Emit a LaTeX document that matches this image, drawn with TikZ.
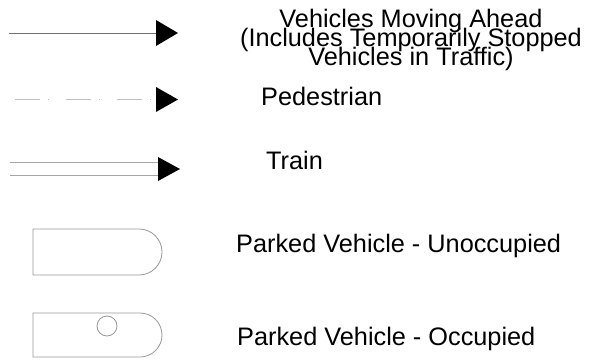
\documentclass[tikz,border=0pt]{standalone}
\usepackage{fontspec}
\setmainfont{Liberation Sans}
\usetikzlibrary{arrows.meta}
\begin{document}
\begin{tikzpicture}[x=1pt,y=-1pt,
  legline/.style={draw=black!55,line width=0.9pt},
  railline/.style={draw=black!35,line width=0.9pt},
  pedline/.style={draw=black!25,line width=1pt,dash pattern=on 25pt off 8pt on 1pt off 17pt},
  tipstyle/.style={fill=black},
  carshape/.style={draw=black!40,line width=0.8pt},
  lbl/.style={font=\fontsize{25.3}{19}\selectfont,inner sep=0pt,anchor=base west}]
\useasboundingbox (0,0) rectangle (589,362);
% vehicles moving ahead
\coordinate (vs) at (9,33);
\coordinate (ve) at (157,33);
\draw[legline] (vs) -- (ve);
\fill[tipstyle] (156,20) -- (178,33) -- (156,46) -- cycle;
\node[font={\fontsize{25.3}{19}\selectfont\lineskiplimit=-50pt\lineskip=0pt},align=center,inner sep=0pt,anchor=base] (vtxt) at (411,65)
  {Vehicles Moving Ahead\\(Includes Temporarily Stopped\\Vehicles in Traffic)};
% pedestrian
\coordinate (ps) at (15,99);
\coordinate (pe) at (157,99);
\draw[pedline] (ps) -- (pe);
\fill[tipstyle] (156,87) -- (178,99.5) -- (156,112) -- cycle;
\node[lbl] (ptxt) at (261,105) {Pedestrian};
% train
\coordinate (ts1) at (10,162);
\coordinate (te1) at (158,162);
\coordinate (ts2) at (10,175);
\coordinate (te2) at (158,175);
\draw[railline] (ts1) -- (te1);
\draw[railline] (ts2) -- (te2);
\fill[tipstyle] (158,157) -- (180,169) -- (158,181) -- cycle;
\node[lbl] (ttxt) at (266,169) {Train};
% parked vehicle unoccupied
\draw[carshape] (139,229) -- (33,229) -- (33,275) -- (139,275) arc[start angle=90,end angle=-90,radius=23];
\node[lbl] (utxt) at (236,252) {Parked Vehicle - Unoccupied};
% parked vehicle occupied
\draw[carshape] (140,313) -- (33,313) -- (33,357) -- (140,357) arc[start angle=90,end angle=-90,radius=22];
\draw[carshape] (107,326) circle[radius=10];
\node[lbl] (otxt) at (237,345) {Parked Vehicle - Occupied};
\end{tikzpicture}
\end{document}
